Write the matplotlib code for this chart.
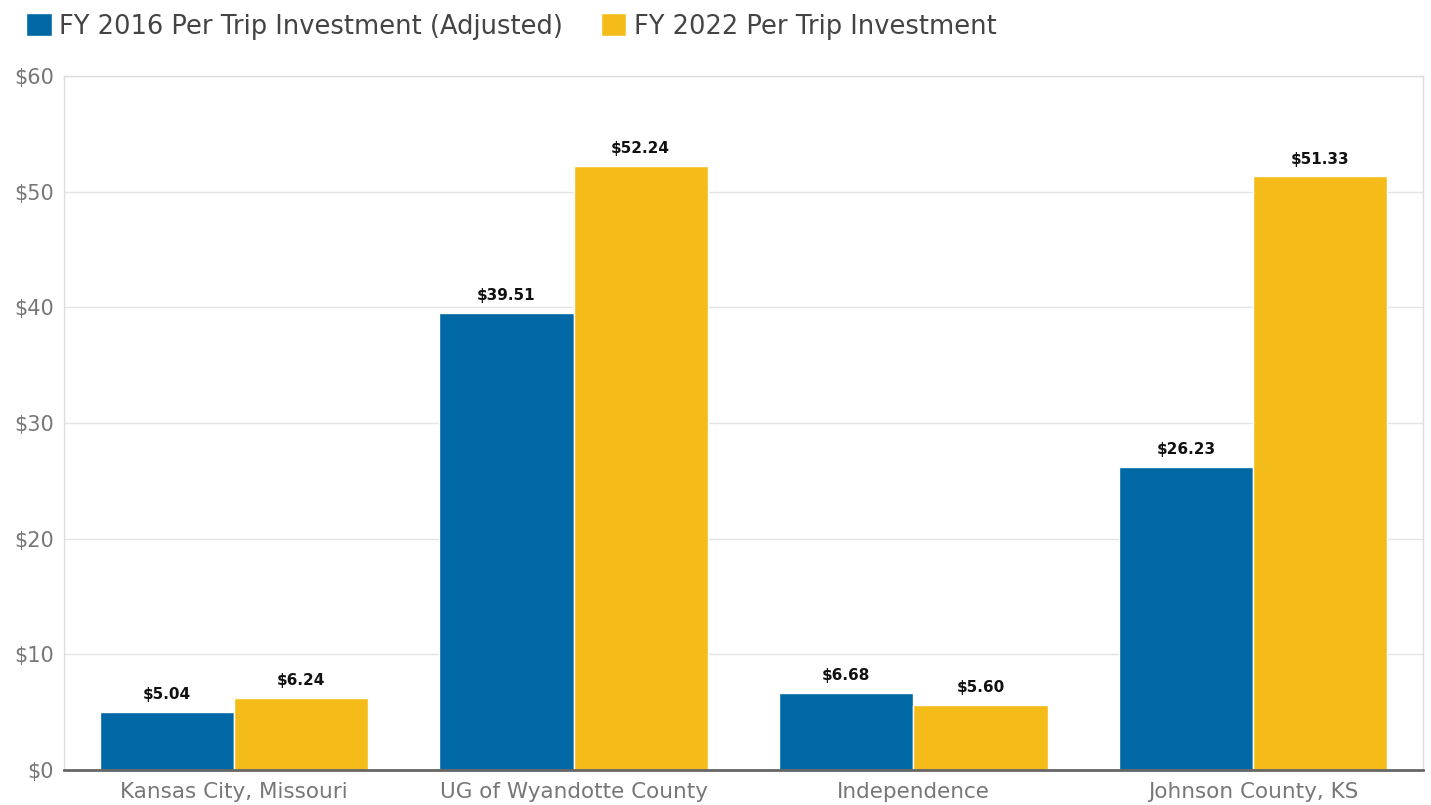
"""Per-trip investment by jurisdiction, FY 2016 vs FY 2022."""

import matplotlib

matplotlib.use("Agg")
import matplotlib.pyplot as plt
import numpy as np

plt.rcParams["font.family"] = ["DejaVu Sans"]

categories = ["Kansas City, Missouri", "UG of Wyandotte County", "Independence", "Johnson County, KS"]
fy2016 = [5.04, 39.51, 6.68, 26.23]
fy2022 = [6.24, 52.24, 5.60, 51.33]
series_labels = ["FY 2016 Per Trip Investment (Adjusted)", "FY 2022 Per Trip Investment"]
y_ticks = [0, 10, 20, 30, 40, 50, 60]

BLUE = "#0068a5"
GOLD = "#f5bc19"

figure = plt.figure(figsize=(14.31, 8.05), dpi=100)
axis = figure.add_axes([0.0447, 0.0435, 0.9497, 0.8621])

x = np.arange(len(categories))
width = 0.395
bars_a = axis.bar(x - width / 2, fy2016, width, color=BLUE, edgecolor="white",
                  linewidth=1, label=series_labels[0], zorder=3)
bars_b = axis.bar(x + width / 2, fy2022, width, color=GOLD, edgecolor="white",
                  linewidth=1, label=series_labels[1], zorder=3)

for bars in (bars_a, bars_b):
    for bar in bars:
        value = bar.get_height()
        axis.annotate(f"${value:.2f}", (bar.get_x() + bar.get_width() / 2, value),
                      xytext=(0, 7), textcoords="offset points", ha="center", va="bottom",
                      fontsize=11, fontweight="bold", color="#111111")

axis.set_xlim(-0.5, len(categories) - 0.5)
axis.set_ylim(0, 60)
axis.set_yticks(y_ticks, labels=[f"${v}" for v in y_ticks])
axis.set_xticks(x, labels=categories)
axis.tick_params(axis="both", length=0, labelcolor="#777777")
axis.tick_params(axis="y", pad=7, labelsize=15)
axis.tick_params(axis="x", pad=9, labelsize=15.5)
axis.grid(axis="y", color="#e4e4e4", linewidth=1, zorder=0)

for side in ("left", "right", "top"):
    axis.spines[side].set_color("#dddddd")
    axis.spines[side].set_linewidth(1)
axis.spines["bottom"].set_color("#666666")
axis.spines["bottom"].set_linewidth(2)
axis.spines["bottom"].set_zorder(4)

figure.legend(loc="upper left", bbox_to_anchor=(0.002, 1.012), ncol=2, frameon=False,
              fontsize=18.5, handlelength=1.0, handleheight=1.0, handletextpad=0.3,
              columnspacing=1.45, labelcolor="#444444")

figure.savefig("out.png", dpi=100)
plt.close(figure)
